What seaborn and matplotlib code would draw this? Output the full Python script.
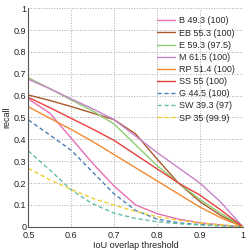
import numpy as np
import pandas as pd
import seaborn as sns
import matplotlib
matplotlib.use('Agg')
import matplotlib.pyplot as plt
from matplotlib.ticker import MultipleLocator, FormatStrFormatter

# IoU thresholds and recall curves
thresholds = [0.5, 0.55, 0.6, 0.65, 0.7, 0.75, 0.8, 0.85, 0.9, 0.95, 1.0]

labels = ['B 49.3 (100)', 'EB 55.3 (100)', 'E 59.3 (97.5)', 'M 61.5 (100)',
          'RP 51.4 (100)', 'SS 55 (100)', 'G 44.5 (100)', 'SW 39.3 (97)',
          'SP 35 (99.9)']

recall_B = [0.585, 0.52, 0.405, 0.29, 0.186, 0.10, 0.06, 0.035, 0.018, 0.008, 0.0]
recall_EB = [0.603, 0.578, 0.55, 0.52, 0.49, 0.425, 0.31, 0.20, 0.115, 0.05, 0.0]
recall_E = [0.682, 0.632, 0.58, 0.53, 0.47, 0.375, 0.28, 0.20, 0.125, 0.06, 0.0]
recall_M = [0.675, 0.632, 0.585, 0.54, 0.49, 0.415, 0.34, 0.27, 0.20, 0.11, 0.0]
recall_RP = [0.549, 0.497, 0.445, 0.39, 0.33, 0.27, 0.21, 0.15, 0.09, 0.04, 0.0]
recall_SS = [0.592, 0.545, 0.496, 0.447, 0.395, 0.33, 0.265, 0.20, 0.145, 0.075, 0.0]
recall_G = [0.489, 0.42, 0.35, 0.25, 0.15, 0.075, 0.035, 0.018, 0.01, 0.005, 0.0]
recall_SW = [0.347, 0.26, 0.168, 0.105, 0.062, 0.038, 0.023, 0.014, 0.008, 0.004, 0.0]
recall_SP = [0.267, 0.215, 0.171, 0.13, 0.099, 0.07, 0.046, 0.03, 0.017, 0.008, 0.0]

curves = [recall_B, recall_EB, recall_E, recall_M, recall_RP, recall_SS,
          recall_G, recall_SW, recall_SP]

colors = ['#e76fb4', '#a9592a', '#8ccc72', '#c583c8', '#f08a32', '#e5413a',
          '#4c80b4', '#63bfa8', '#eed02c']
dashed = [False] * 6 + [True] * 3

rows = []
for lab, vals in zip(labels, curves):
    for t, r in zip(thresholds, vals):
        rows.append({'method': lab, 'iou': t, 'recall': r})
df = pd.DataFrame(rows)

sns.set_style('white')
plt.rcParams['font.family'] = ['Liberation Sans', 'DejaVu Sans']

fig = plt.figure(figsize=(2.49, 2.50), dpi=100)
ax = fig.add_axes([0.114, 0.093, 0.861, 0.874])

sns.lineplot(data=df, x='iou', y='recall', hue='method', style='method',
             hue_order=labels, style_order=labels,
             palette=dict(zip(labels, colors)),
             dashes={l: ((3, 2) if d else '') for l, d in zip(labels, dashed)},
             linewidth=1.0, ax=ax)

ax.set_xlim(0.5, 1.0)
ax.set_ylim(0, 1.0)
ax.xaxis.set_major_locator(MultipleLocator(0.1))
ax.yaxis.set_major_locator(MultipleLocator(0.1))
ax.xaxis.set_minor_locator(MultipleLocator(0.02))
ax.yaxis.set_minor_locator(MultipleLocator(0.02))
ax.xaxis.set_major_formatter(FormatStrFormatter('%g'))
ax.yaxis.set_major_formatter(FormatStrFormatter('%g'))
ax.tick_params(which='major', direction='in', length=2.5, width=0.6,
               labelsize=6.5, pad=1.5, colors='#444444', labelcolor='#222222')
ax.tick_params(axis='x', which='major', pad=3)
ax.tick_params(which='minor', direction='in', length=1.2, width=0.5,
               colors='#777777')
ax.grid(True, which='major', linestyle=':', linewidth=0.7, color='#aaaaaa')

for s in ['top', 'right']:
    ax.spines[s].set_visible(False)
for s in ['left', 'bottom']:
    ax.spines[s].set_color('#555555')
    ax.spines[s].set_linewidth(0.8)

ax.set_xlabel('IoU overlap threshold', fontsize=6.5, labelpad=1, color='#222222')
ax.set_ylabel('recall', fontsize=6.5, labelpad=2, color='#222222')

ax.legend(loc='upper right', frameon=False, fontsize=6.5, handlelength=2.0,
          handletextpad=0.4, labelspacing=0.35, borderaxespad=0.5,
          title=None)

fig.savefig('out.png', dpi=100)
